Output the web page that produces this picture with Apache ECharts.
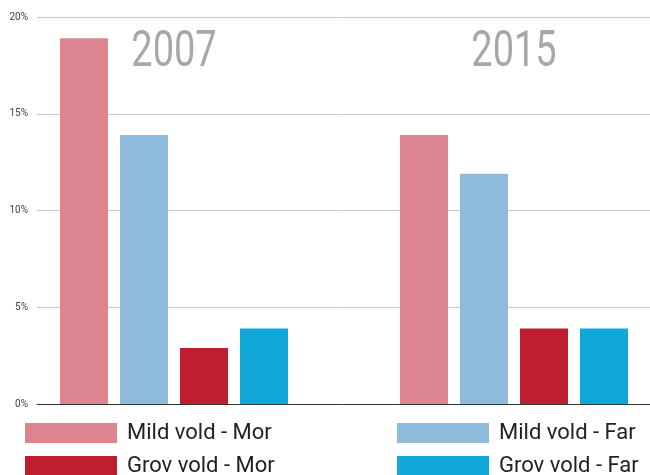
<!DOCTYPE html>
<html><head><meta charset="utf-8">
<script src="https://cdn.jsdelivr.net/npm/echarts@6/dist/echarts.min.js"></script>
<style>html,body{margin:0;padding:0;background:#fff}#c{width:650px;height:475px}</style>
</head><body><div id="c"></div>
<script>
const years = ['2007', '2015'];
const yTicks = [0, 5, 10, 15, 20];
const mildMor = [18.9, 13.9];
const mildFar = [13.9, 11.9];
const grovMor = [2.9, 3.9];
const grovFar = [3.9, 3.9];
const names = ['Mild vold - Mor', 'Mild vold - Far', 'Grov vold - Mor', 'Grov vold - Far'];
const colors = ['#dc8591', '#8fbcdc', '#be1e2d', '#0fa8d8'];
const values = [mildMor, mildFar, grovMor, grovFar];

const chart = echarts.init(document.getElementById('c'));
const font = 'Roboto';
const legendPos = [[25, 422], [397, 422], [25, 455], [397, 455]];
chart.setOption({
  animation: false,
  grid: [
    {left: 37, right: 0, top: 17, bottom: 71, outerBoundsMode: 'none'},
    {left: 4, width: 680, top: 17, bottom: 71, outerBoundsMode: 'none'}
  ],
  xAxis: [
    {gridIndex: 0, type: 'category', data: years, axisLine: {lineStyle: {color: '#333', width: 1}}, axisTick: {show: false}, axisLabel: {show: false}},
    {gridIndex: 1, type: 'category', data: years, axisLine: {show: false}, axisTick: {show: false}, axisLabel: {show: false}}
  ],
  yAxis: [
    {gridIndex: 0, type: 'value', min: 0, max: 20, interval: 5, axisLine: {show: false}, axisTick: {show: false},
     axisLabel: {formatter: v => v + '%', fontFamily: font, fontSize: 10, color: '#444', margin: 9},
     splitLine: {lineStyle: {color: '#c8c8c8', width: 1}}},
    {gridIndex: 1, type: 'value', min: 0, max: 20, interval: 5, show: false}
  ],
  legend: names.map((n, i) => ({
    left: legendPos[i][0], top: legendPos[i][1], orient: 'horizontal', padding: 0,
    itemWidth: 92, itemHeight: 20, icon: 'rect', data: [n],
    textStyle: {fontFamily: font, fontSize: 22, color: '#222', padding: [0, 0, 0, 5]}
  })),
  series: names.map((n, i) => ({
    name: n, type: 'bar', xAxisIndex: 1, yAxisIndex: 1, data: values[i],
    barWidth: 48, barGap: '25%',
    itemStyle: {color: colors[i]}
  }))
});
const yearText = years.map(y => {
  const p = chart.convertToPixel({xAxisIndex: 1}, y);
  return {
    type: 'text', x: p, y: 53, scaleX: 0.76, silent: true,
    style: {text: y, fontFamily: font, fontSize: 50, fontWeight: 'normal', fill: '#a8a8ab', align: 'center', verticalAlign: 'middle'}
  };
});
chart.setOption({graphic: yearText});
</script></body></html>
